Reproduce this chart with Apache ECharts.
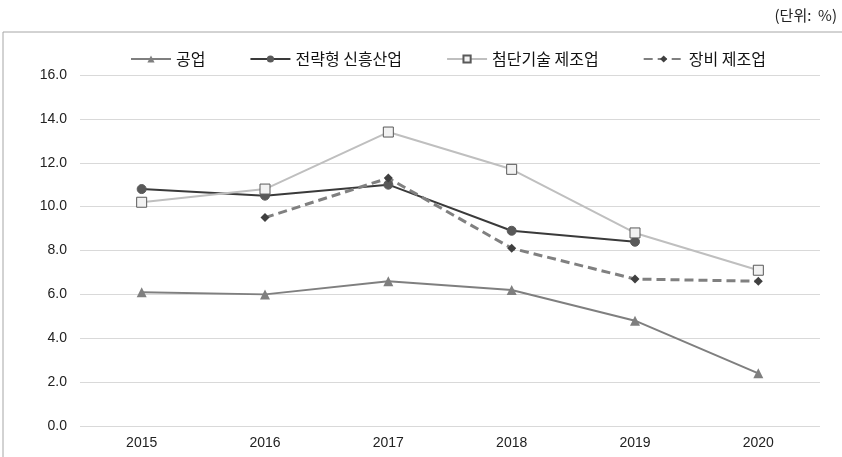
<!DOCTYPE html>
<html>
<head>
<meta charset="utf-8">
<script src="https://cdn.jsdelivr.net/npm/echarts@6/dist/echarts.min.js"></script>
<style>
html, body { margin: 0; padding: 0; background: #fff; }
#container { width: 842px; height: 457px; }
</style>
</head>
<body>
<div id="container"></div>
<script>
var years = ['2015', '2016', '2017', '2018', '2019', '2020'];
var industry = [6.1, 6.0, 6.6, 6.2, 4.8, 2.4];
var emerging = [10.8, 10.5, 11.0, 8.9, 8.4, null];
var hightech = [10.2, 10.8, 13.4, 11.7, 8.8, 7.1];
var equipment = [null, 9.5, 11.3, 8.1, 6.7, 6.6];
var yTicks = { min: 0, max: 16, interval: 2 };

var dom = document.getElementById('container');
var myChart = echarts.init(dom);
var font = '"Noto Sans CJK KR", "Noto Sans", sans-serif';
var numFont = '"Liberation Sans", Arial, sans-serif';

var option = {
    animation: false,
    textStyle: { fontFamily: font },
    graphic: [
        {   // 바깥 테두리
            type: 'rect',
            shape: { x: 3, y: 32, width: 860, height: 440 },
            style: { fill: 'none', stroke: '#a6a6a6', lineWidth: 1 }
        },
        {
            type: 'text',
            right: 5, top: 8,
            style: { text: '(단위:  %)', font: '15px ' + font, fill: '#222' }
        }
    ],
    legend: {
        top: 46,
        left: 125,
        itemGap: 44,
        itemWidth: 40,
        itemHeight: 9,
        textStyle: { fontSize: 16, color: '#111', fontFamily: font },
        data: ['공업', '전략형 신흥산업', '첨단기술 제조업', '장비 제조업']
    },
    grid: { left: 80, right: 22, top: 75, bottom: 31 },
    xAxis: {
        type: 'category',
        data: years,
        boundaryGap: true,
        axisLine: { show: false },
        axisTick: { show: false },
        axisLabel: { fontSize: 14, color: '#222', margin: 10, fontFamily: numFont }
    },
    yAxis: {
        type: 'value',
        min: yTicks.min,
        max: yTicks.max,
        interval: yTicks.interval,
        axisLabel: {
            fontSize: 14, color: '#222', margin: 13, fontFamily: numFont,
            formatter: function (v) { return v.toFixed(1); }
        },
        splitLine: { lineStyle: { color: '#d9d9d9', width: 1 } }
    },
    series: [
        {
            name: '공업', type: 'line', data: industry,
            symbol: 'triangle', symbolSize: 10,
            lineStyle: { color: '#7f7f7f', width: 2 },
            itemStyle: { color: '#7f7f7f' }
        },
        {
            name: '전략형 신흥산업', type: 'line', data: emerging,
            symbol: 'circle', symbolSize: 9,
            lineStyle: { color: '#3a3a3a', width: 2 },
            itemStyle: { color: '#595959', borderColor: '#595959' }
        },
        {
            name: '첨단기술 제조업', type: 'line', data: hightech,
            symbol: 'rect', symbolSize: 10,
            lineStyle: { color: '#bfbfbf', width: 2 },
            itemStyle: { color: '#f2f2f2', borderColor: '#595959', borderWidth: 1 }
        },
        {
            name: '장비 제조업', type: 'line', data: equipment,
            symbol: 'diamond', symbolSize: 9,
            lineStyle: { color: '#808080', width: 3, type: [9, 5] },
            itemStyle: { color: '#404040' }
        }
    ]
};
if (option && typeof option === 'object') {
    myChart.setOption(option, true);
}
</script>
</body>
</html>
